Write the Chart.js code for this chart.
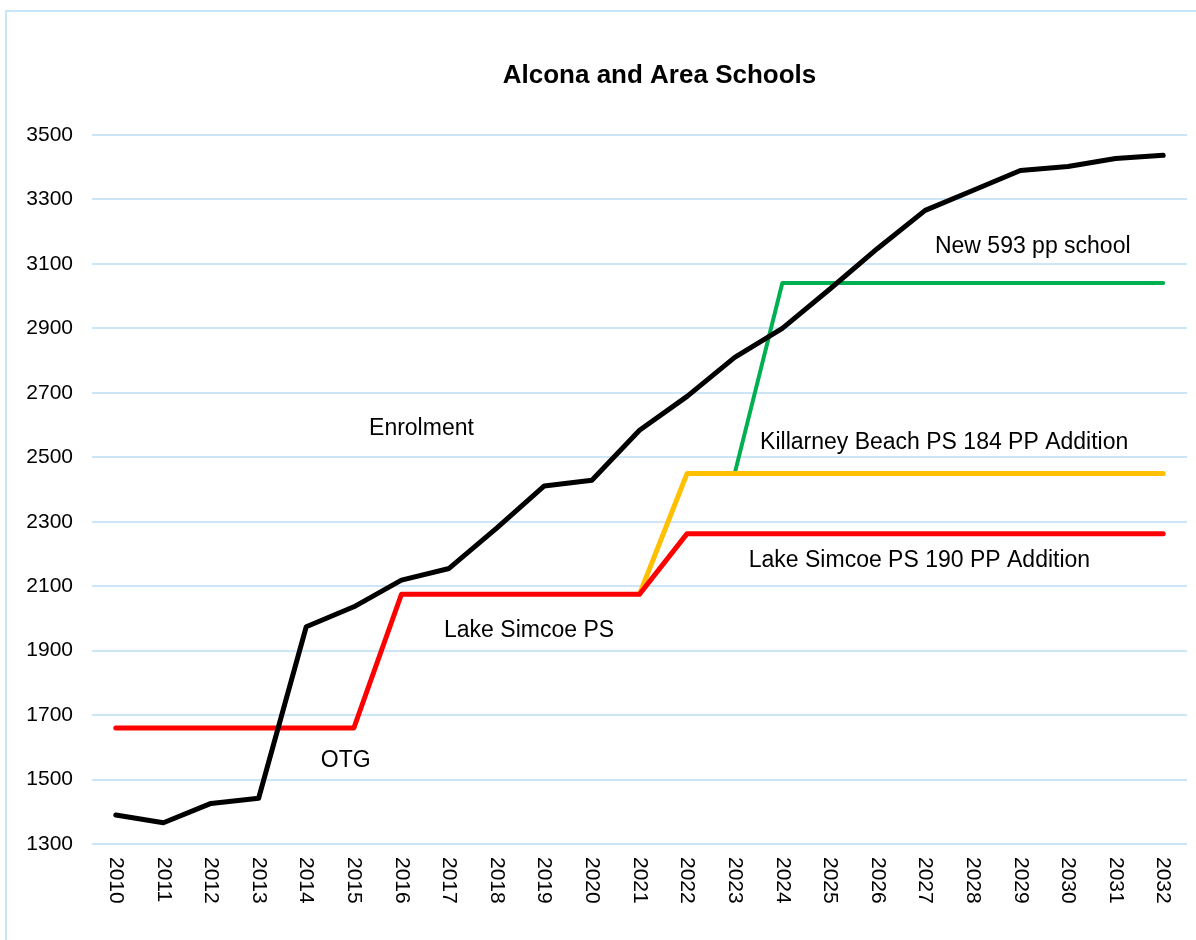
<!DOCTYPE html>
<html>
<head>
<meta charset="utf-8">
<script src="https://cdn.jsdelivr.net/npm/chart.js@4/dist/chart.umd.min.js"></script>
<style>
  html, body { margin: 0; padding: 0; background: #fff; overflow: hidden; }
  #frame { position: absolute; left: 5px; top: 10px; width: 1200px; height: 940px; border: 2px solid #c6e5f9; }
  #wrap { position: absolute; left: 0; top: 0; width: 1196px; height: 940px; }
</style>
</head>
<body>
<div id="frame"></div>
<div id="wrap"><canvas id="grafico"></canvas></div>
<script>
/* Datos */
const years = ['2010','2011','2012','2013','2014','2015','2016','2017','2018','2019','2020','2021',
  '2022','2023','2024','2025','2026','2027','2028','2029','2030','2031','2032'];
const enrolment = [1390, 1366, 1426, 1442, 1974, 2036, 2119, 2155, 2280, 2411, 2429, 2584,
  2689, 2810, 2900, 3022, 3148, 3266, 3328, 3390, 3402, 3427, 3437];
const lakeSimcoe = [1660, 1660, 1660, 1660, 1660, 1660, 2075, 2075, 2075, 2075, 2075, 2075,
  2263, 2263, 2263, 2263, 2263, 2263, 2263, 2263, 2263, 2263, 2263];
const killarney = [null, null, null, null, null, null, null, null, null, null, null, 2075,
  2450, 2450, 2450, 2450, 2450, 2450, 2450, 2450, 2450, 2450, 2450];
const newSchool = [null, null, null, null, null, null, null, null, null, null, null, null,
  null, 2450, 3041, 3041, 3041, 3041, 3041, 3041, 3041, 3041, 3041];
const yTicks = [1300, 1500, 1700, 1900, 2100, 2300, 2500, 2700, 2900, 3100, 3300, 3500];

/* Etiquetas dentro del grafico (indice de categoria, valor) */
const notas = [
  { text: 'Enrolment', x: 6.42, y: 2590 },
  { text: 'OTG', x: 4.83, y: 1560 },
  { text: 'Lake Simcoe PS', x: 8.68, y: 1962 },
  { text: 'Lake Simcoe PS 190 PP Addition', x: 16.88, y: 2180 },
  { text: 'Killarney Beach PS 184 PP Addition', x: 17.4, y: 2546 },
  { text: 'New 593 pp school', x: 19.26, y: 3153 }
];

const FONT = '"Liberation Sans", Arial, sans-serif';

/* Plugin: titulo, etiquetas rotadas del eje x y notas */
const textos = {
  id: 'textos',
  afterDraw(chart) {
    const ctx = chart.ctx;
    const xs = chart.scales.x, ys = chart.scales.y;
    const area = chart.chartArea;
    ctx.save();
    ctx.fillStyle = '#000';

    ctx.font = 'bold 26px ' + FONT;
    ctx.textAlign = 'center';
    ctx.textBaseline = 'middle';
    ctx.fillText('Alcona and Area Schools', (area.left + area.right) / 2 + 20, 76);

    ctx.font = '21px ' + FONT;
    years.forEach((y, i) => {
      ctx.save();
      ctx.translate(xs.getPixelForTick(i), area.bottom + 13);
      ctx.rotate(Math.PI / 2);
      ctx.textAlign = 'left';
      ctx.textBaseline = 'middle';
      ctx.fillText(y, 0, 0);
      ctx.restore();
    });

    ctx.font = '23px ' + FONT;
    ctx.textAlign = 'center';
    ctx.textBaseline = 'middle';
    notas.forEach(n => {
      ctx.fillText(n.text, xs.getPixelForValue(n.x), ys.getPixelForValue(n.y));
    });
    ctx.restore();
  }
};

const serie = (data, color, width, order) => ({
  data,
  borderColor: color,
  backgroundColor: color,
  borderWidth: width,
  pointRadius: 0,
  tension: 0,
  borderJoinStyle: 'round',
  borderCapStyle: 'round',
  spanGaps: false,
  order
});

new Chart(document.getElementById('grafico'), {
  type: 'line',
  data: {
    labels: years,
    datasets: [
      serie(enrolment, '#000000', 5, 0),
      serie(lakeSimcoe, '#ff0000', 5, 1),
      serie(killarney, '#ffc000', 5, 2),
      serie(newSchool, '#00b050', 4, 3)
    ]
  },
  options: {
    responsive: true,
    maintainAspectRatio: false,
    animation: false,
    layout: { padding: { top: 135, right: 9, bottom: 0, left: 0 } },
    plugins: {
      legend: { display: false },
      title: { display: false },
      tooltip: { enabled: false }
    },
    scales: {
      x: {
        offset: true,
        grid: { display: false },
        border: { display: false },
        ticks: { display: false },
        afterFit(scale) { scale.height = 96; }
      },
      y: {
        min: 1300,
        max: 3500,
        afterBuildTicks(scale) { scale.ticks = yTicks.map(v => ({ value: v })); },
        grid: { color: '#cde6f7', lineWidth: 2, drawTicks: false },
        border: { display: false },
        ticks: {
          color: '#000',
          font: { family: FONT, size: 21 },
          padding: 19,
          callback: (v) => String(v)
        },
        afterFit(scale) { scale.width = 92; }
      }
    }
  },
  plugins: [textos]
});
</script>
</body>
</html>
